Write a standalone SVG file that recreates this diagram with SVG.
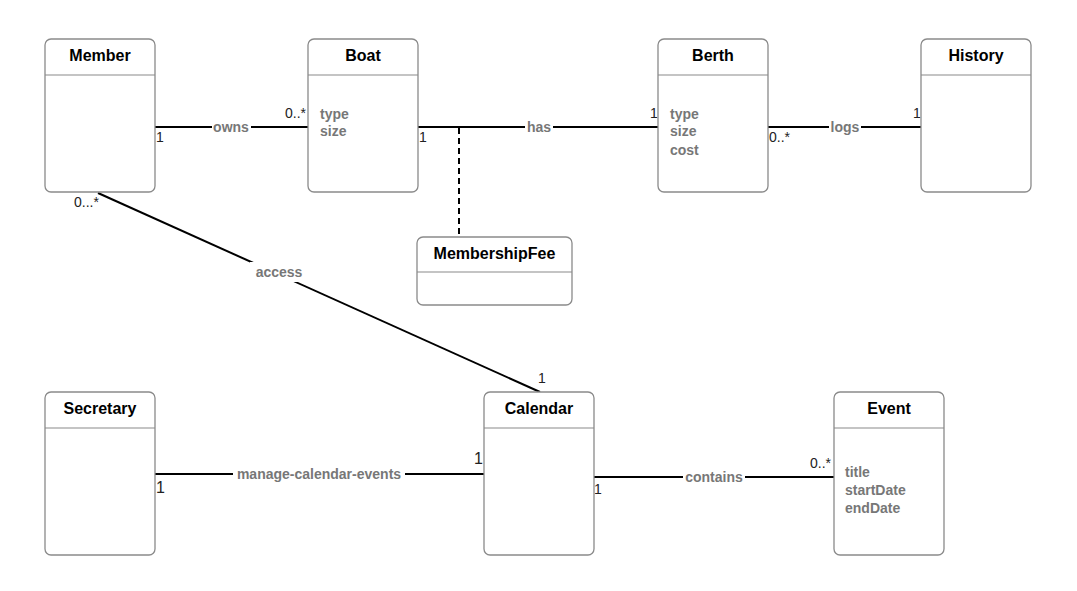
<svg xmlns="http://www.w3.org/2000/svg" width="1077" height="591" viewBox="0 0 1077 591">
  <style>
    .box { fill: #ffffff; stroke: #8a8a8a; stroke-width: 1.3; }
    .div { stroke: #8a8a8a; stroke-width: 1.1; }
    .title { font-family: "Liberation Sans", Arial, sans-serif; font-weight: bold; font-size: 16px; fill: #000; text-anchor: middle; }
    .attr { font-family: "Liberation Sans", Arial, sans-serif; font-weight: bold; font-size: 14px; fill: #777; }
    .edge { stroke: #000; stroke-width: 2; fill: none; }
    .dash { stroke: #000; stroke-width: 2; stroke-dasharray: 6 4; fill: none; }
    .lbl { font-family: "Liberation Sans", Arial, sans-serif; font-weight: bold; font-size: 14px; fill: #777; text-anchor: middle; }
    .lblbg { fill: #ffffff; }
    .mult { font-family: "Liberation Sans", Arial, sans-serif; font-size: 14px; fill: #222; }
    .multl { font-family: "Liberation Sans", Arial, sans-serif; font-size: 16px; fill: #222; }
  </style>

  <!-- associations -->
  <g id="connectors">
    <line class="edge" x1="155" y1="127" x2="308" y2="127"/>
    <line class="edge" x1="418" y1="127" x2="658" y2="127"/>
    <line class="dash" x1="459" y1="128" x2="459" y2="237"/>
    <line class="edge" x1="768" y1="127" x2="922" y2="127"/>
    <line class="edge" x1="98" y1="193" x2="540" y2="392"/>
    <line class="edge" x1="155" y1="474" x2="484" y2="474"/>
    <line class="edge" x1="594" y1="477" x2="834" y2="477"/>

    <rect class="lblbg" x="212" y="118" width="39" height="18"/>
    <text class="lbl" x="231" y="132">owns</text>
    <rect class="lblbg" x="525" y="118" width="28" height="18"/>
    <text class="lbl" x="539" y="132">has</text>
    <rect class="lblbg" x="829" y="118" width="32" height="18"/>
    <text class="lbl" x="845" y="132">logs</text>
    <rect class="lblbg" x="250" y="262" width="56" height="20"/>
    <text class="lbl" x="279" y="277">access</text>
    <rect class="lblbg" x="233" y="465" width="172" height="18"/>
    <text class="lbl" x="319" y="479">manage-calendar-events</text>
    <rect class="lblbg" x="683" y="468" width="62" height="18"/>
    <text class="lbl" x="714" y="482">contains</text>

    <text class="mult" x="156" y="142">1</text>
    <text class="mult" x="285" y="118">0..*</text>
    <text class="mult" x="419" y="142">1</text>
    <text class="mult" x="650" y="118">1</text>
    <text class="mult" x="769" y="142">0..*</text>
    <text class="mult" x="913" y="118">1</text>
    <text class="mult" x="74" y="207">0...*</text>
    <text class="mult" x="538" y="383">1</text>
    <text class="multl" x="156" y="493">1</text>
    <text class="multl" x="474" y="464">1</text>
    <text class="mult" x="594" y="494">1</text>
    <text class="mult" x="810" y="468">0..*</text>
  </g>

  <g id="member">
    <rect class="box" x="45" y="39" width="110" height="153" rx="6"/>
    <line class="div" x1="45" y1="75" x2="155" y2="75"/>
    <text class="title" x="100" y="61">Member</text>
  </g>

  <g id="boat">
    <rect class="box" x="308" y="39" width="110" height="153" rx="6"/>
    <line class="div" x1="308" y1="75" x2="418" y2="75"/>
    <text class="title" x="363" y="61">Boat</text>
    <text class="attr" x="320" y="119">type</text>
    <text class="attr" x="320" y="136">size</text>
  </g>

  <g id="berth">
    <rect class="box" x="658" y="39" width="110" height="153" rx="6"/>
    <line class="div" x1="658" y1="75" x2="768" y2="75"/>
    <text class="title" x="713" y="61">Berth</text>
    <text class="attr" x="670" y="119">type</text>
    <text class="attr" x="670" y="136">size</text>
    <text class="attr" x="670" y="155">cost</text>
  </g>

  <g id="history">
    <rect class="box" x="921" y="39" width="110" height="153" rx="6"/>
    <line class="div" x1="921" y1="75" x2="1031" y2="75"/>
    <text class="title" x="976" y="61">History</text>
  </g>

  <g id="membershipfee">
    <rect class="box" x="417" y="237" width="155" height="68" rx="6"/>
    <line class="div" x1="417" y1="272" x2="572" y2="272"/>
    <text class="title" x="494.5" y="259">MembershipFee</text>
  </g>

  <g id="secretary">
    <rect class="box" x="45" y="392" width="110" height="163" rx="6"/>
    <line class="div" x1="45" y1="428" x2="155" y2="428"/>
    <text class="title" x="100" y="414">Secretary</text>
  </g>

  <g id="calendar">
    <rect class="box" x="484" y="392" width="110" height="163" rx="6"/>
    <line class="div" x1="484" y1="428" x2="594" y2="428"/>
    <text class="title" x="539" y="414">Calendar</text>
  </g>

  <g id="event">
    <rect class="box" x="834" y="392" width="110" height="163" rx="6"/>
    <line class="div" x1="834" y1="428" x2="944" y2="428"/>
    <text class="title" x="889" y="414">Event</text>
    <text class="attr" x="845" y="477">title</text>
    <text class="attr" x="845" y="495">startDate</text>
    <text class="attr" x="845" y="513">endDate</text>
  </g>
</svg>
